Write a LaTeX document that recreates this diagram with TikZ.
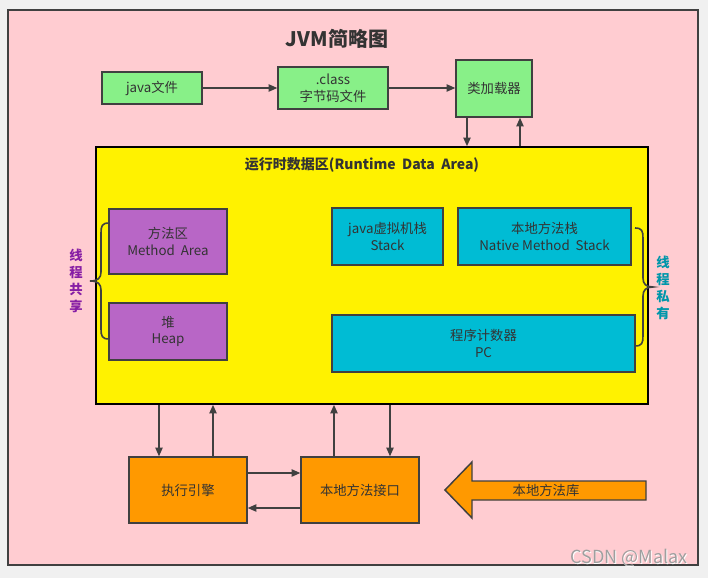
\documentclass[tikz,border=0pt]{standalone}
\usepackage{fontspec}
\setmainfont{Noto Sans CJK SC}
\usetikzlibrary{arrows.meta,fit}
\definecolor{bgpink}{RGB}{255,204,209}
\definecolor{bggray}{RGB}{240,240,240}
\definecolor{edge}{RGB}{64,64,64}
\definecolor{txt}{RGB}{51,51,51}
\definecolor{boxgreen}{RGB}{136,240,136}
\definecolor{boxpurple}{RGB}{184,102,198}
\definecolor{boxcyan}{RGB}{0,188,212}
\definecolor{boxorange}{RGB}{255,153,0}
\definecolor{sharedtxt}{RGB}{135,30,165}
\definecolor{privtxt}{RGB}{0,150,170}
\begin{document}
\begin{tikzpicture}[x=0.75pt,y=-0.75pt,
  box/.style={draw=edge,line width=1.1pt,inner sep=0pt},
  lbl/.style={text=txt,align=center,inner sep=0pt,
    font=\fontsize{10pt}{12.5pt}\selectfont},
  arr/.style={draw=edge,line width=1.1pt,-{Triangle[length=6.5pt,width=5.5pt]}},
  bracepath/.style={draw=edge,line width=1.2pt},
  sidelabel/.style={font=\fontsize{10pt}{12.8pt}\selectfont\bfseries,align=center}]
\useasboundingbox (0,0) rectangle (708,578);
\fill[bggray] (0,0) rectangle (708,578);
\node[draw=edge,fill=bgpink,line width=1.2pt,inner sep=0pt,fit={(8,10) (698,565)}] (frame) {};

\node[font=\fontsize{15pt}{18pt}\selectfont\bfseries,text=txt] (title) at (337,39) {JVM简略图};

\node[box,fill=boxgreen,fit={(102,72) (202,104)}] (java) {};
\node[lbl] (java-t) at (java.center) {java文件};
\node[box,fill=boxgreen,fit={(278,67) (388,109)}] (class) {};
\node[lbl] (class-t) at (class.center) {.class\\字节码文件};
\node[box,fill=boxgreen,fit={(456,60) (532,117)}] (loader) {};
\node[lbl] (loader-t) at (loader.center) {类加载器};

\node[draw=black,fill=yellow,line width=1.2pt,inner sep=0pt,fit={(96,147) (648,404)}] (rda) {};
\node[font=\fontsize{10.5pt}{12pt}\selectfont\bfseries,text=txt,inner sep=0pt] (rdatitle) at (362,165) {运行时数据区(Runtime\ \ Data\ \ Area)};

\node[box,fill=boxpurple,fit={(109,209) (227,274)}] (method) {};
\node[lbl] (method-t) at (method.center) {方法区\\Method\ \ Area};
\node[box,fill=boxpurple,fit={(109,303) (227,360)}] (heap) {};
\node[lbl] (heap-t) at (heap.center) {堆\\Heap};

\node[box,fill=boxcyan,fit={(332,208) (443,265)}] (jstack) {};
\node[lbl] (jstack-t) at (jstack.center) {java虚拟机栈\\Stack};
\node[box,fill=boxcyan,fit={(458,208) (631,265)}] (nstack) {};
\node[lbl] (nstack-t) at (nstack.center) {本地方法栈\\Native Method\ \ Stack};
\node[box,fill=boxcyan,fit={(332,315) (635,372)}] (pc) {};
\node[lbl] (pc-t) at (pc.center) {程序计数器\\PC};

\node[box,fill=boxorange,fit={(129,457) (247,523)}] (exec) {};
\node[lbl] (exec-t) at (exec.center) {执行引擎};
\node[box,fill=boxorange,fit={(301,457) (419,523)}] (nif) {};
\node[lbl] (nif-t) at (nif.center) {本地方法接口};

\draw[edge,fill=boxorange,line width=1.1pt] (445,490) -- (472,462) -- (472,481) -- (646,481) -- (646,500) -- (472,500) -- (472,518) -- cycle;
\node[lbl] (nlib) at (546,490) {本地方法库};

% braces
\draw[bracepath] (109,223) .. controls (102,223) and (101,226) .. (101,233) -- (101,272)
  .. controls (101,278) and (98,281) .. (90,281)
  .. controls (98,281) and (101,284) .. (101,290) -- (101,329)
  .. controls (101,336) and (102,339) .. (109,339);
\draw[bracepath] (635,228) .. controls (642,228) and (643,231) .. (643,238) -- (643,278)
  .. controls (643,284) and (646,287) .. (653,287)
  .. controls (646,287) and (643,290) .. (643,296) -- (643,336)
  .. controls (643,343) and (642,346) .. (635,346);
\node[sidelabel,text=sharedtxt] (shared) at (76,281) {线\\程\\共\\享};
\node[sidelabel,text=privtxt] (private) at (663,288) {线\\程\\私\\有};

% connectors
\draw[arr] (java.east) -- (class.west |- java.east);
\draw[arr] (class.east) -- (loader.west |- class.east);
\coordinate (c1) at (467,0);
\coordinate (c2) at (520,0);
\draw[arr] (loader.south -| c1) -- (rda.north -| c1);
\draw[arr] (rda.north -| c2) -- (loader.south -| c2);
\coordinate (c3) at (159,0);
\coordinate (c4) at (213,0);
\coordinate (c5) at (334,0);
\coordinate (c6) at (390,0);
\draw[arr] (rda.south -| c3) -- (exec.north -| c3);
\draw[arr] (exec.north -| c4) -- (rda.south -| c4);
\draw[arr] (nif.north -| c5) -- (rda.south -| c5);
\draw[arr] (rda.south -| c6) -- (nif.north -| c6);
\coordinate (r1) at (0,473);
\coordinate (r2) at (0,508);
\draw[arr] (exec.east |- r1) -- (nif.west |- r1);
\draw[arr] (nif.west |- r2) -- (exec.east |- r2);

\node[font=\fontsize{13.5pt}{15pt}\selectfont,text=white] (wm-s) at (629.8,558.8) {CSDN @Malax};
\node[font=\fontsize{13.5pt}{15pt}\selectfont,text=gray!75] (wm) at (629,558) {CSDN @Malax};
\end{tikzpicture}
\end{document}
